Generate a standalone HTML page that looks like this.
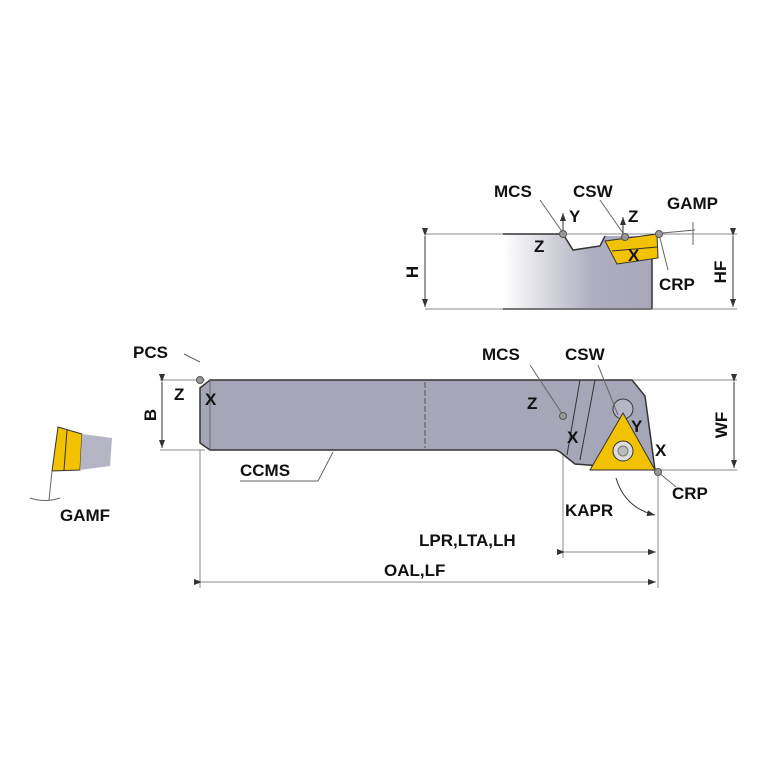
<!DOCTYPE html>
<html><head><style>
html,body{margin:0;padding:0;background:#fff;}
text{font-family:"Liberation Sans",Arial,sans-serif;font-weight:bold;font-size:17px;fill:#111;}
</style></head><body>
<svg width="767" height="767" viewBox="0 0 767 767" xmlns="http://www.w3.org/2000/svg">
<defs>
<linearGradient id="g1" x1="0" x2="1" y1="0" y2="0">
<stop offset="0" stop-color="#ffffff"/><stop offset="0.6" stop-color="#aeaec0"/><stop offset="1" stop-color="#a8a8ba"/>
</linearGradient>
<marker id="a" markerWidth="8" markerHeight="6" refX="8" refY="3" orient="auto"><path d="M0,0 L8,3 L0,6z" fill="#333"/></marker>
</defs>
<g stroke="#888" stroke-width="1" fill="none">
<line x1="425" y1="234" x2="737" y2="234"/>
<line x1="425" y1="309" x2="737" y2="309"/>
<line x1="425" y1="236" x2="425" y2="307" stroke="#333" marker-start="url(#a)" marker-end="url(#a)"/>
<line x1="733" y1="236" x2="733" y2="307" stroke="#333" marker-start="url(#a)" marker-end="url(#a)"/>
</g>
<path d="M503,234 L563,234 L573,250 L600,246 L605,236 L652,236 L652,309 L503,309 Z" fill="url(#g1)"/>
<path d="M503,234 L563,234 L573,250 L600,246 L605,236" fill="none" stroke="#333" stroke-width="1.5"/>
<line x1="652" y1="258" x2="652" y2="309" stroke="#333" stroke-width="1.5"/>
<line x1="503" y1="309" x2="652" y2="309" stroke="#777" stroke-width="2"/>
<path d="M605,241 L657,234 L658,258 L617,264 Z" fill="#f2c200" stroke="#333" stroke-width="1"/>
<line x1="612" y1="251" x2="657" y2="247" stroke="#333"/>
<g stroke="#666" fill="none" stroke-width="1">
<line x1="540" y1="200" x2="563" y2="233"/>
<line x1="600" y1="200" x2="625" y2="236"/>
<line x1="659" y1="234" x2="668" y2="270"/>
<line x1="662" y1="233" x2="695" y2="230"/>
<line x1="693" y1="222" x2="693" y2="245"/>
</g>
<circle cx="563" cy="234" r="3.5" fill="#999" stroke="#555"/>
<circle cx="625" cy="237" r="3.5" fill="#999" stroke="#555"/>
<circle cx="659" cy="234" r="3.5" fill="#999" stroke="#555"/>
<line x1="563" y1="230" x2="563" y2="213" stroke="#333" marker-end="url(#a)"/>
<line x1="623" y1="233" x2="623" y2="217" stroke="#333" marker-end="url(#a)"/>
<text x="494" y="197">MCS</text><text x="573" y="197">CSW</text><text x="667" y="209">GAMP</text>
<text x="569" y="222">Y</text><text x="628" y="222">Z</text><text x="534" y="252">Z</text>
<text x="628" y="261">X</text><text x="659" y="290">CRP</text>
<text x="0" y="0" transform="translate(418,272) rotate(-90)" text-anchor="middle">H</text>
<text x="0" y="0" transform="translate(726,272) rotate(-90)" text-anchor="middle">HF</text>
<g stroke="#888" stroke-width="1" fill="none">
<line x1="160" y1="380" x2="205" y2="380"/>
<line x1="160" y1="450" x2="205" y2="450"/>
<line x1="632" y1="380" x2="737" y2="380"/>
<line x1="655" y1="470" x2="737" y2="470"/>
<line x1="200" y1="450" x2="200" y2="588"/>
<line x1="563" y1="455" x2="563" y2="558"/>
<line x1="658" y1="476" x2="658" y2="588"/>
<line x1="425" y1="415" x2="563" y2="415"/>
</g>
<line x1="162" y1="382" x2="162" y2="448" stroke="#333" marker-start="url(#a)" marker-end="url(#a)"/>
<line x1="734" y1="382" x2="734" y2="468" stroke="#333" marker-start="url(#a)" marker-end="url(#a)"/>
<line x1="565" y1="552" x2="656" y2="552" stroke="#888" marker-start="url(#a)" marker-end="url(#a)"/>
<line x1="202" y1="582" x2="656" y2="582" stroke="#888" marker-start="url(#a)" marker-end="url(#a)"/>
<path d="M210,380 L632,380 L645,396 L651,440 L655,470 L575,464 L560,452 L556,450 L210,450 L200,443 L200,388 Z" fill="#a6a6b9" stroke="#333" stroke-width="1.5"/>
<path d="M210,380 L210,450" stroke="#666"/>
<line x1="580" y1="380" x2="567" y2="455" stroke="#333"/>
<line x1="595" y1="380" x2="580" y2="460" stroke="#333"/>
<line x1="425" y1="382" x2="425" y2="448" stroke="#555" stroke-dasharray="6,2"/>
<circle cx="623" cy="409" r="10" fill="#b5b5c6" stroke="#333"/>
<path d="M590,470 L623,413 L655,470 Z" fill="#f2c200" stroke="#333" stroke-width="1"/>
<circle cx="623" cy="451" r="10" fill="#ddd" stroke="#333"/>
<circle cx="623" cy="451" r="5" fill="#bbb" stroke="#777"/>
<g stroke="#666" fill="none">
<line x1="530" y1="365" x2="563" y2="415"/>
<line x1="598" y1="365" x2="618" y2="415"/>
<line x1="200" y1="362" x2="184" y2="354"/>
<line x1="658" y1="472" x2="676" y2="487"/>
<path d="M240,481 L318,481 L333,452"/>
<path d="M616,478 Q625,508 655,515" stroke="#333" marker-end="url(#a)"/>
</g>
<circle cx="200" cy="380" r="3.5" fill="#999" stroke="#555"/>
<circle cx="563" cy="416" r="3.5" fill="#999" stroke="#555"/>
<circle cx="658" cy="472" r="3.5" fill="#999" stroke="#555"/>
<text x="133" y="358">PCS</text><text x="174" y="400">Z</text><text x="205" y="405">X</text>
<text x="482" y="360">MCS</text><text x="565" y="360">CSW</text>
<text x="527" y="409">Z</text><text x="567" y="443">X</text>
<text x="631" y="432">Y</text><text x="655" y="456">X</text>
<text x="672" y="499">CRP</text><text x="565" y="516">KAPR</text>
<text x="419" y="546">LPR,LTA,LH</text><text x="384" y="576">OAL,LF</text>
<text x="240" y="476">CCMS</text>
<text x="0" y="0" transform="translate(156,415) rotate(-90)" text-anchor="middle">B</text>
<text x="0" y="0" transform="translate(727,425) rotate(-90)" text-anchor="middle">WF</text>
<path d="M58,427 L82,434 L80,470 L52,471 Z" fill="#f2c200" stroke="#333"/>
<line x1="67" y1="430" x2="64" y2="470" stroke="#333"/>
<path d="M82,434 L112,438 L110,466 L80,470 Z" fill="#b5b5c6"/>
<line x1="52" y1="471" x2="49" y2="500" stroke="#666"/>
<path d="M30,498 Q45,503 60,498" stroke="#666" fill="none"/>
<text x="60" y="521">GAMF</text>
</svg>
</body></html>
